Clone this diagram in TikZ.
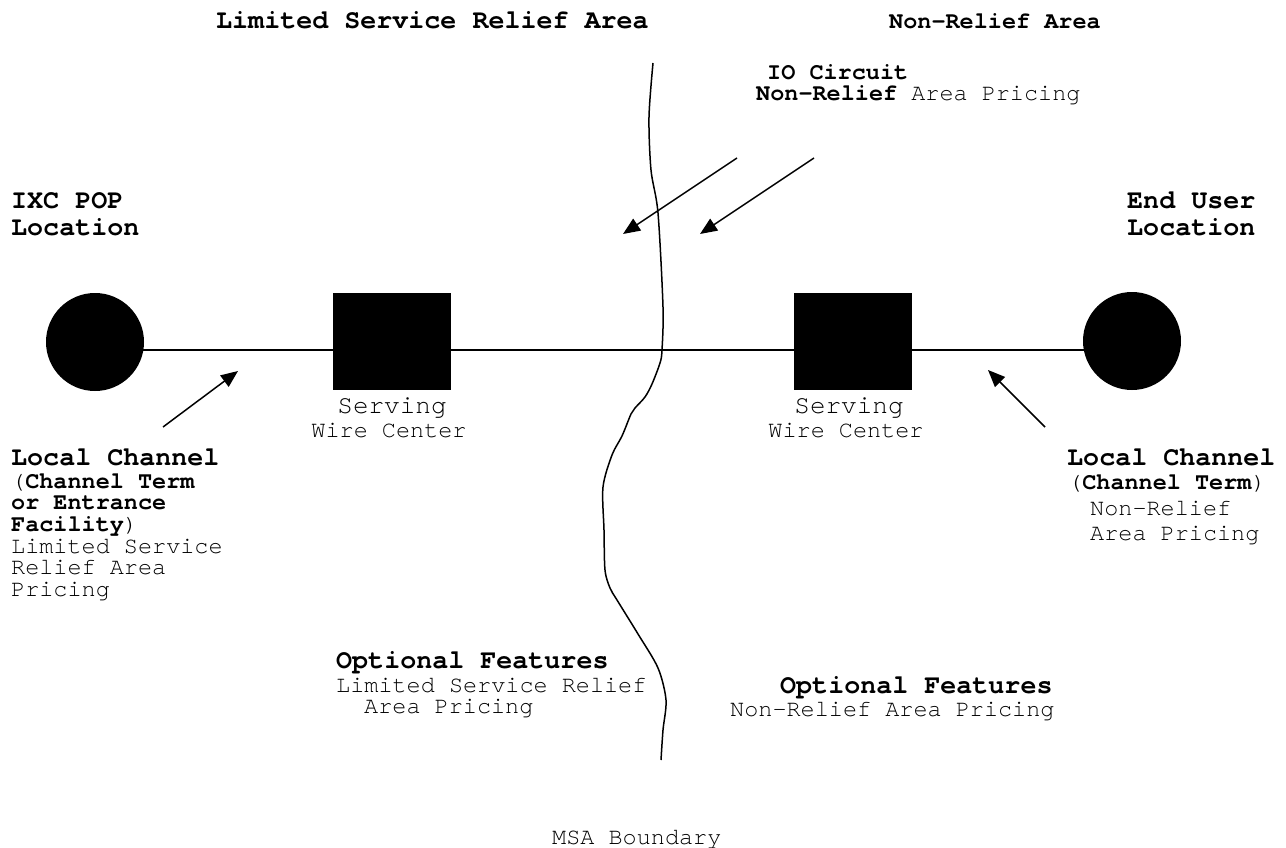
\documentclass[tikz,border=0pt]{standalone}
\usepackage{fontspec}
\setmainfont{TeX Gyre Cursor}
\usetikzlibrary{arrows.meta,calc}
\begin{document}
\begin{tikzpicture}[x=1pt,y=-1pt,
  txt/.style={anchor=base west, inner sep=0pt, font=\fontsize{23.5}{24}\selectfont},
  txtb/.style={txt, font=\fontsize{23.5}{24}\selectfont\bfseries},
  hdr/.style={anchor=base west, inner sep=0pt, font=\fontsize{26.7}{27}\selectfont\bfseries},
  ctr/.style={txt, anchor=base},
  ctrbig/.style={ctr, font=\fontsize{26}{27}\selectfont},
  site/.style={circle, fill=black, minimum size=98pt, inner sep=0pt},
  wc/.style={rectangle, fill=black, minimum width=118pt, minimum height=97pt, inner sep=0pt},
  link/.style={line width=1.5pt},
  ptr/.style={line width=1.5pt, -{Triangle[length=17pt,width=14pt]}},
  bnd/.style={line width=1.5pt},
]
\useasboundingbox (0,0) rectangle (1286,848);

% sites and wire centers
\node[site] (pop) at (95,342) {};
\node[site] (eu) at (1132,341) {};
\node[wc] (wcA) at (392,341) {};
\node[wc] (wcB) at (853,341) {};
\draw[link] ($(pop.center)+(0,8)$) -- ($(eu.center)+(0,9)$);

% MSA boundary
\draw[bnd] plot[smooth, tension=0.5] coordinates {
  (653,63) (649,117) (651,170) (658,213) (663,307) (662,350) (660,363)
  (652,384) (645,397) (635,408) (631,414) (622,436) (612,455) (603,487)
  (604,530) (605,570) (610,588) (617,600) (638,634) (658,668) (666,700)
  (663,730) (661,760)};

% pointers
\coordinate (io1s) at (737,158); \coordinate (io1t) at (623,234);
\coordinate (io2s) at (814,158); \coordinate (io2t) at (700,234);
\coordinate (lcAs) at (163,427); \coordinate (lcAt) at (238,371);
\coordinate (lcBs) at (1045,427); \coordinate (lcBt) at (988,370);
\draw[ptr] (io1s) -- (io1t);
\draw[ptr] (io2s) -- (io2t);
\draw[ptr] (lcAs) -- (lcAt);
\draw[ptr] (lcBs) -- (lcBt);

% top headings
\node[hdr] (lsra) at (216,29) {Limited Service Relief Area};
\node[txtb] (nra) at (889,29) {Non-Relief Area};
\node[txtb] (io) at (767,80) {IO Circuit};
\node[txt] (iop) at (756,101) {\textbf{Non-Relief} Area Pricing};

% locations
\node[hdr] (popA) at (11,208) {IXC POP};
\node[hdr] (popB) at (11,236) {Location};
\node[hdr] (euA) at (1127,208) {End User};
\node[hdr] (euB) at (1127,236) {Location};

% wire center labels
\node[ctrbig] (sA) at (392,413) {Serving};
\node[ctr] (wA) at (389,437) {Wire Center};
\node[ctrbig] (sB) at (849,413) {Serving};
\node[ctr] (wB) at (846,437) {Wire Center};

% left local channel
\node[hdr] (lcA) at (11,465) {Local Channel};
\node[txt] (lcA1) at (11,488) {(\textbf{Channel Term}};
\node[txtb] (lcA2) at (11,509.5) {or Entrance};
\node[txt] (lcA3) at (11,531) {\textbf{Facility})};
\node[txt] (lcA4) at (11,553) {Limited Service};
\node[txt] (lcA5) at (11,574.5) {Relief Area};
\node[txt] (lcA6) at (11,596) {Pricing};

% right local channel
\node[hdr] (lcB) at (1067,465) {Local Channel};
\node[txt] (lcB1) at (1068,489) {(\textbf{Channel Term})};
\node[txt] (lcB2) at (1090,515) {Non-Relief};
\node[txt] (lcB3) at (1090,540) {Area Pricing};

% optional features
\node[hdr] (ofA) at (336,668) {Optional Features};
\node[txt] (ofA1) at (336,692) {Limited Service Relief};
\node[txt] (ofA2) at (364,713) {Area Pricing};
\node[hdr] (ofB) at (780,693) {Optional Features};
\node[txt] (ofB1) at (730,716) {Non-Relief Area Pricing};

\node[txt] (msa) at (552,844) {MSA Boundary};
\end{tikzpicture}
\end{document}
